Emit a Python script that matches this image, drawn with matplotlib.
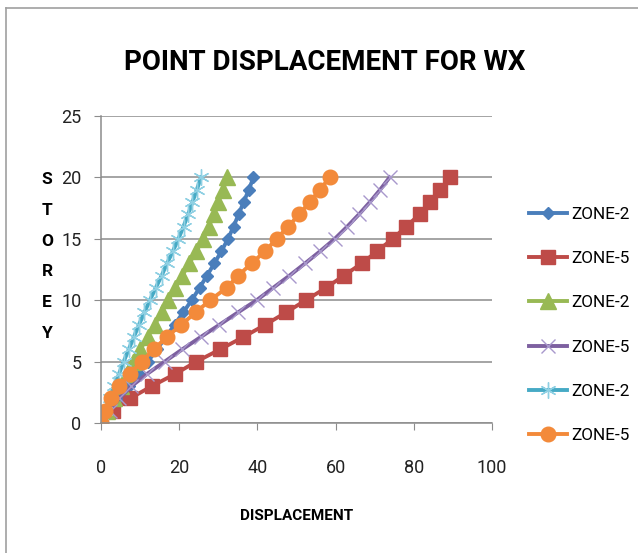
import matplotlib
matplotlib.use("Agg")
import matplotlib.pyplot as plt
from matplotlib.lines import Line2D

plt.rcParams['font.family'] = ['Roboto', 'DejaVu Sans']
plt.rcParams['font.stretch'] = 'condensed'

stories = list(range(21))

zone2_a = [0, 2.4, 4.8, 7.2, 9.6, 12.0, 14.3, 16.6, 18.8, 21.0, 23.2,
           25.2, 27.1, 29.0, 30.8, 32.5, 33.9, 35.2, 36.5, 37.8, 39.0]
zone5_a = [0, 3.0, 7.4, 13.0, 19.0, 24.4, 30.5, 36.4, 42.0, 47.3, 52.4,
           57.5, 62.1, 66.7, 70.7, 74.6, 78.1, 81.5, 84.2, 86.8, 89.3]
zone2_b = [0, 1.6, 3.3, 5.0, 6.6, 8.3, 10.1, 11.9, 13.7, 15.5, 17.2,
           19.0, 20.8, 22.6, 24.4, 26.2, 27.6, 28.9, 30.0, 31.2, 32.3]
zone5_b = [0, 2.2, 4.6, 7.8, 11.8, 16.3, 20.8, 25.5, 30.3, 35.0, 39.8,
           44.0, 48.2, 52.2, 56.1, 59.8, 63.0, 66.0, 68.8, 71.4, 73.8]
zone2_c = [0, 1.1, 2.2, 3.4, 4.6, 5.8, 7.1, 8.4, 9.7, 11.1, 12.5,
           14.0, 15.5, 16.9, 18.4, 19.8, 21.1, 22.3, 23.4, 24.5, 25.6]
zone5_c = [0, 1.0, 2.6, 4.6, 7.3, 10.4, 13.5, 16.8, 20.5, 24.2, 27.9,
           32.1, 35.1, 38.5, 42.0, 44.9, 47.9, 50.7, 53.4, 56.0, 58.5]

labels = ["ZONE-2", "ZONE-5", "ZONE-2", "ZONE-5", "ZONE-2", "ZONE-5"]
x_ticks = [0, 20, 40, 60, 80, 100]
y_ticks = [0, 5, 10, 15, 20, 25]

W, H = 638, 553
fig = plt.figure(figsize=(W / 100, H / 100), dpi=100)
ax = fig.add_axes([101 / W, 1 - 423 / H, 391 / W, 307 / H])

lw = 2.8
ax.plot(zone2_a, stories, color='#4A7EBB', lw=lw, marker='D', ms=6.5,
        mec='#4A7EBB', label=labels[0])
ax.plot(zone5_a, stories, color='#BE4B48', lw=lw, marker='s', ms=10.5,
        mec='#BE4B48', label=labels[1])
ax.plot(zone2_b, stories, color='#98B954', lw=lw, marker='^', ms=11.5,
        mec='#98B954', label=labels[2])
ax.plot(zone5_b, stories, color='#7D60A0', lw=lw, marker='x', ms=10.5,
        mec='#A898CC', mew=1.0, label=labels[3])
ax.plot(zone2_c, stories, color='#46AAC5', lw=lw, marker=(6, 2, 0), ms=11.5,
        mec='#8FD0E3', mew=1.0, label=labels[4])
ax.plot(zone5_c, stories, color='#F38A3A', lw=lw, marker='o', ms=10.5,
        mec='#F38A3A', label=labels[5])

ax.set_xlim(0, 100)
ax.set_ylim(0, 25)
ax.set_xticks(x_ticks)
ax.set_yticks(y_ticks)
ax.grid(axis='y', color='#8C8C8C', lw=1.1)
ax.set_axisbelow(True)
for side in ['top', 'right']:
    ax.spines[side].set_visible(False)
for side in ['left', 'bottom']:
    ax.spines[side].set_color('#8C8C8C')
    ax.spines[side].set_linewidth(1.1)
ax.tick_params(axis='both', direction='out', length=5, color='#8C8C8C',
               labelsize=13, labelcolor='#222222')
ax.tick_params(axis='x', pad=21)
ax.tick_params(axis='y', pad=9)
for lab in ax.get_xticklabels() + ax.get_yticklabels():
    lab.set_clip_on(False)

fig.text(325 / W, 1 - 62 / H, "POINT DISPLACEMENT FOR WX", ha='center',
         va='center', fontsize=20, fontweight='bold')
fig.text(297 / W, 1 - 516 / H, "DISPLACEMENT", ha='center', va='center',
         fontsize=11, fontweight='bold')
for i, ch in enumerate("STOREY"):
    fig.text(47 / W, 1 - (180 + i * 30.6) / H, ch, ha='center', va='center',
             fontsize=12.5, fontweight='bold')

fig.legend(loc='center left', bbox_to_anchor=(529 / W, 1 - 325 / H),
           frameon=False, fontsize=12.3, handlelength=2.2, handletextpad=0.25,
           labelspacing=1.7, borderpad=0, borderaxespad=0, numpoints=1)

# chart area border (left and top edges visible)
fig.add_artist(Line2D([6 / W, 6 / W], [0, 1 - 8 / H], color='#A0A0A0', lw=1.2))
fig.add_artist(Line2D([6 / W, 1], [1 - 8 / H, 1 - 8 / H], color='#A0A0A0', lw=1.2))

fig.savefig("out.png", dpi=100)
